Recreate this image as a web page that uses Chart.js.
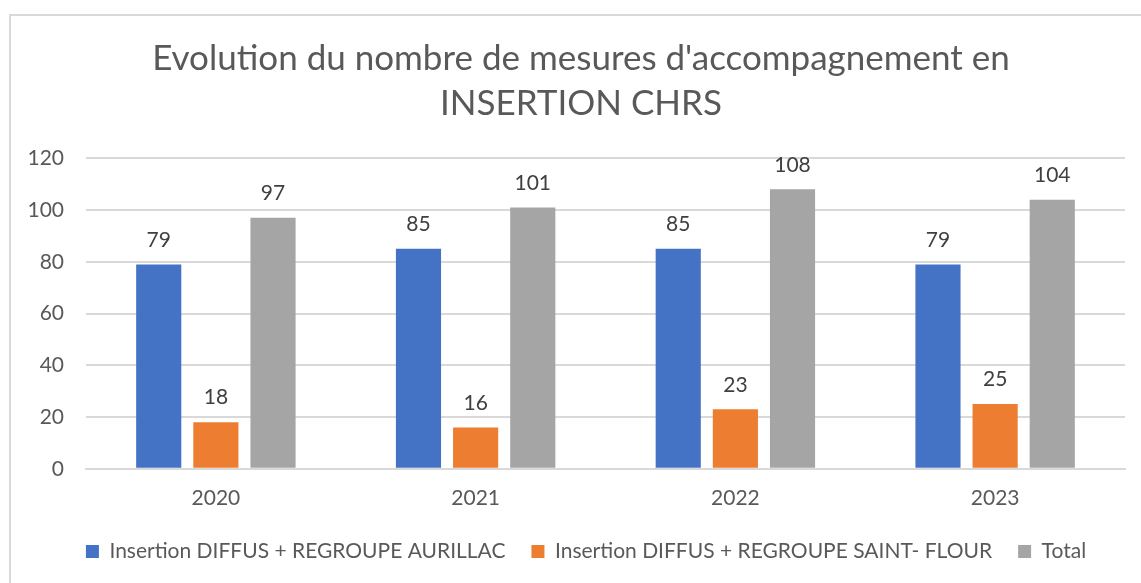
<!DOCTYPE html>
<html>
<head>
<meta charset="utf-8">
<script src="https://cdn.jsdelivr.net/npm/chart.js@4.4.0/dist/chart.umd.min.js"></script>
<style>
    body { margin: 0; background: #fff; overflow: hidden; }
    #wrap { position: absolute; left: 9px; top: 14px; width: 1148px; height: 575px; border: 2px solid #d9d9d9; box-sizing: border-box; }
</style>
</head>
<body>
<div id="wrap"><canvas id="bar-chart"></canvas></div>
<script>
var annees = ['2020', '2021', '2022', '2023'];
var aurillac = [79, 85, 85, 79];
var saintFlour = [18, 16, 23, 25];
var total = [97, 101, 108, 104];
var yTicks = [0, 20, 40, 60, 80, 100, 120];

var police = 'Lato, "Open Sans", sans-serif';
var gris = '#595959';

// etichette sopra le barre
var etichette = {
    id: 'etichette',
    afterDatasetsDraw: function(chart) {
        var ctx = chart.ctx;
        ctx.save();
        ctx.font = '21px ' + police;
        ctx.fillStyle = '#404040';
        ctx.textAlign = 'center';
        ctx.textBaseline = 'bottom';
        chart.data.datasets.forEach(function(ds, i) {
            chart.getDatasetMeta(i).data.forEach(function(bar, j) {
                ctx.fillText(ds.data[j], bar.x, bar.y - 14);
            });
        });
        ctx.restore();
    }
};

// titolo e legenda centrati come nell'originale
var sposta = {
    id: 'sposta',
    afterLayout: function(chart) {
        chart.legend.top -= 13;
        chart.legend.bottom -= 13;
        chart.legend.left += 18;
        chart.legend.right += 18;
        chart.titleBlock.left += 13;
        chart.titleBlock.right += 13;
    }
};

var ctx = document.getElementById('bar-chart');
var chart = new Chart(ctx, {
    type: 'bar',
    data: {
        labels: annees,
        datasets: [{
            label: 'Insertion DIFFUS + REGROUPE AURILLAC',
            backgroundColor: '#4472C4',
            data: aurillac
        }, {
            label: 'Insertion DIFFUS + REGROUPE SAINT- FLOUR',
            backgroundColor: '#ED7D31',
            data: saintFlour
        }, {
            label: 'Total',
            backgroundColor: '#A5A5A5',
            data: total
        }]
    },
    options: {
        responsive: true,
        maintainAspectRatio: false,
        animation: false,
        layout: { padding: { left: 0, right: 30, top: 0, bottom: 2 } },
        datasets: { bar: { categoryPercentage: 0.66, barPercentage: 0.79 } },
        scales: {
            x: {
                grid: { display: false, drawTicks: false },
                border: { color: '#d9d9d9', width: 2 },
                ticks: { color: gris, font: { family: police, size: 21 }, padding: 17 }
            },
            y: {
                min: 0, max: 120,
                afterFit: function(scale) { scale.width = 75; },
                afterBuildTicks: function(scale) {
                    scale.ticks = yTicks.map(function(v) { return { value: v }; });
                },
                grid: { color: '#d9d9d9', lineWidth: 2, drawTicks: false },
                border: { display: false },
                ticks: { color: gris, font: { family: police, size: 21 }, padding: 22 }
            }
        },
        plugins: {
            title: {
                display: true,
                text: ["Evolution du nombre de mesures d'accompagnement en", 'INSERTION CHRS'],
                color: gris,
                font: { family: police, size: 35, weight: 'normal', lineHeight: 1.29 },
                padding: { top: 20, bottom: 32 }
            },
            legend: {
                position: 'bottom',
                labels: {
                    color: gris,
                    font: { family: police, size: 21 },
                    boxWidth: 13, boxHeight: 13,
                    padding: 26
                }
            },
            tooltip: { enabled: false }
        }
    },
    plugins: [etichette, sposta]
});
</script>
</body>
</html>
